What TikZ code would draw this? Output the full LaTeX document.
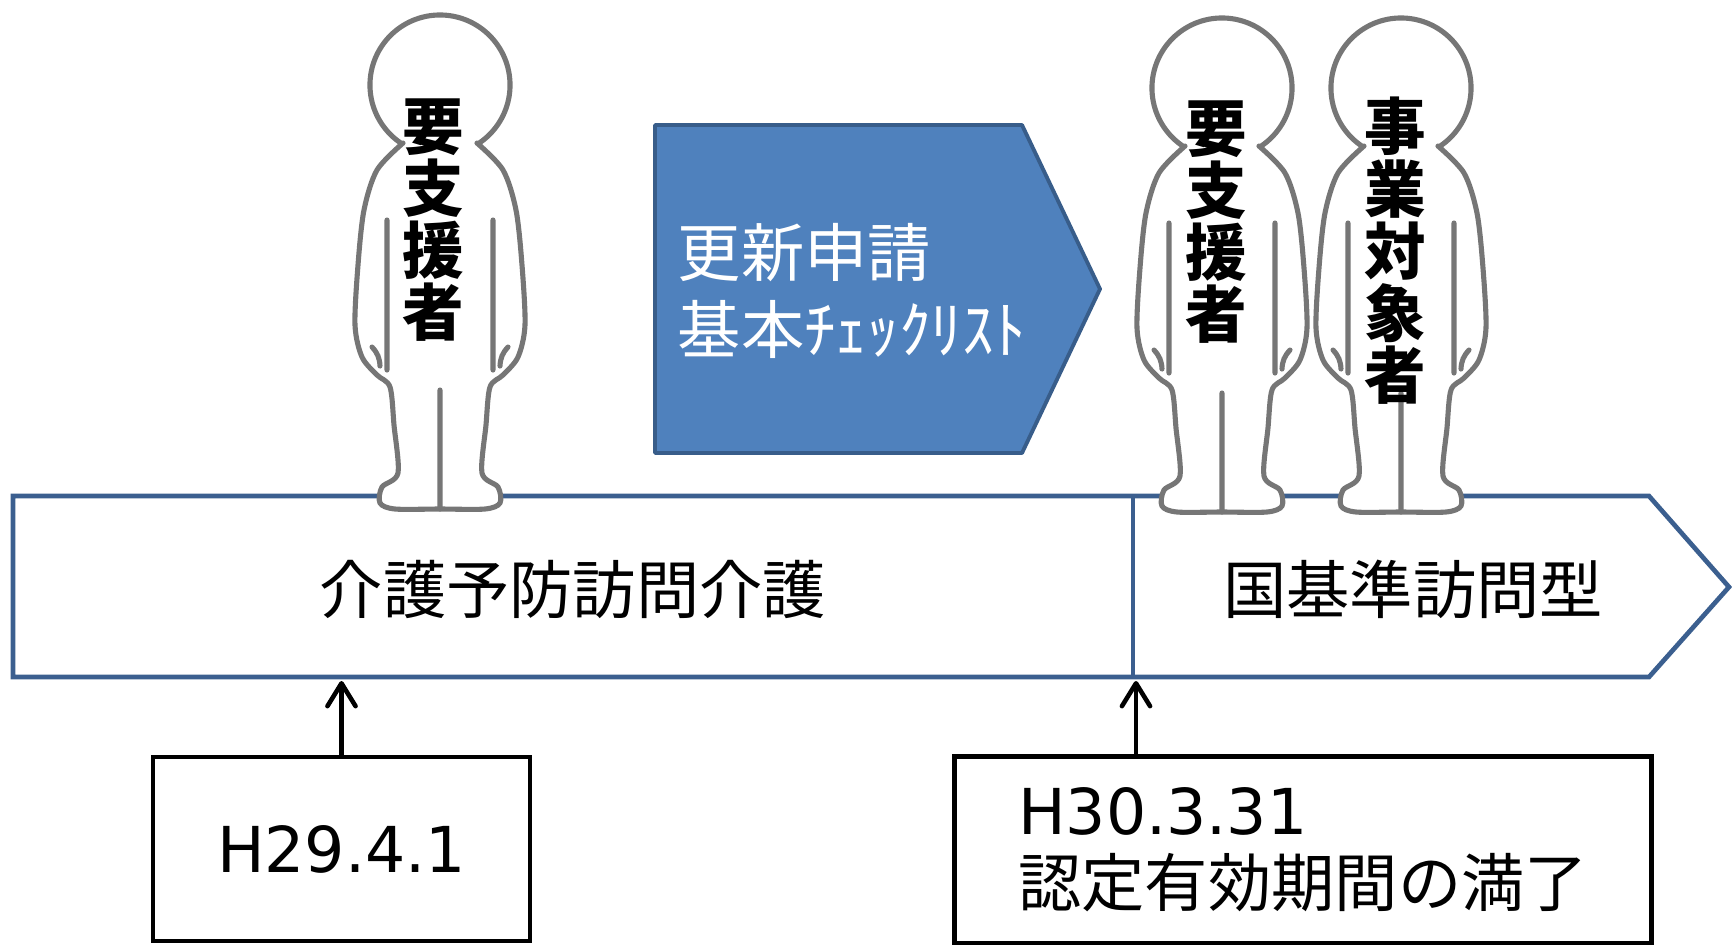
\documentclass[tikz,border=0pt]{standalone}
\usepackage{fontspec}
\usetikzlibrary{arrows.meta}
\newfontfamily\jp{Noto Sans CJK JP}
\newfontfamily\lat{DejaVu Sans}
\definecolor{bandblue}{HTML}{3B5F8F}
\definecolor{boxblue}{HTML}{4F81BD}
\definecolor{boxedge}{HTML}{385D8A}
\definecolor{figgray}{HTML}{767676}
\tikzset{
  person/.pic={
    \filldraw[fill=white,draw=figgray,line width=1.45pt] (0,0) circle[radius=0.7cm];
    \fill[white] plot[smooth] coordinates {(-37,58) (-63,85) (-76,125) (-82,180) (-85,240) (-78,272) (-63,290) (-50,302) (-46,340) (-42,388) (-58,402) (-60,418) (-45,424) (0,424) (45,424) (60,418) (58,402) (42,388) (46,340) (50,302) (63,290) (78,272) (85,240) (82,180) (76,125) (63,85) (37,58)} -- cycle;
    \draw[figgray,line width=1.45pt,line cap=round,line join=round] plot[smooth] coordinates {(-37,58) (-63,85) (-76,125) (-82,180) (-85,240) (-78,272) (-63,290) (-50,302) (-46,340) (-42,388) (-58,402) (-60,418) (-45,424) (0,424) (45,424) (60,418) (58,402) (42,388) (46,340) (50,302) (63,290) (78,272) (85,240) (82,180) (76,125) (63,85) (37,58)};
    \draw[figgray,line width=1.45pt,line cap=round] (-53,135) -- (-53,285) (53,135) -- (53,285) (0,305) -- (0,424)
      (-68,262) to[bend left=20] (-60,281) (68,262) to[bend right=20] (60,281);
  },
  jplabel/.style={font=\jp\fontsize{18}{22}\selectfont,inner sep=0},
  tategaki/.style={font=\jp\bfseries\fontsize{17.5}{17.7}\selectfont,align=center,inner sep=0},
  datebox/.style={draw,line width=1.3pt,inner sep=0},
  up/.style={-{Straight Barb[length=6.5pt,width=8pt,round]},line width=1.3pt}
}
\begin{document}
\begin{tikzpicture}[x=0.01cm,y=-0.01cm]
  \useasboundingbox (0,0) rectangle (1732,944);
  \draw[bandblue,line width=1.33pt] (13,496) -- (1649,496) -- (1729,587) -- (1649,677) -- (13,677) -- cycle;
  \draw[bandblue,line width=1.2pt] (1133,496) -- (1133,677);
  \node[jplabel] (kaigo) at (573,589) {介護予防訪問介護};
  \node[jplabel] (kuni) at (1413,589) {国基準訪問型};
  \filldraw[fill=boxblue,draw=boxedge,line width=1.1pt,line join=round] (655,125) -- (1022,125) -- (1100,289) -- (1022,453) -- (655,453) -- cycle;
  \node[jplabel,white,anchor=west,align=left,font=\jp\fontsize{18}{21.9}\selectfont] (koshin) at (677,291) {更新申請\\基本ﾁｪｯｸﾘｽﾄ};
  \pic at (440,85) {person};
  \pic at (1222,88) {person};
  \pic at (1401,88) {person};
  \node[tategaki] (shien1) at (433,220) {要\\支\\援\\者};
  \node[tategaki] (shien2) at (1216,222) {要\\支\\援\\者};
  \node[tategaki] (taisho) at (1395,251) {事\\業\\対\\象\\者};
  \node[datebox,minimum width=3.77cm,minimum height=1.84cm,font=\lat\fontsize{18}{22}\selectfont] (start) at (341.5,849) {H29.4.1};
  \node[datebox,anchor=north west,minimum height=1.87cm,text width=5.69cm,inner xsep=0.64cm,align=left,font=\fontsize{18}{20.5}\selectfont] (end) at (952,754) {{\lat H30.3.31}\\{\jp 認定有効期間の満了}};
  \coordinate (t1) at (341.5,681);
  \coordinate (t2) at (1136,681);
  \draw[up] (start.north) -- (t1);
  \draw[up] (t2 |- end.north) -- (t2);
\end{tikzpicture}
\end{document}
